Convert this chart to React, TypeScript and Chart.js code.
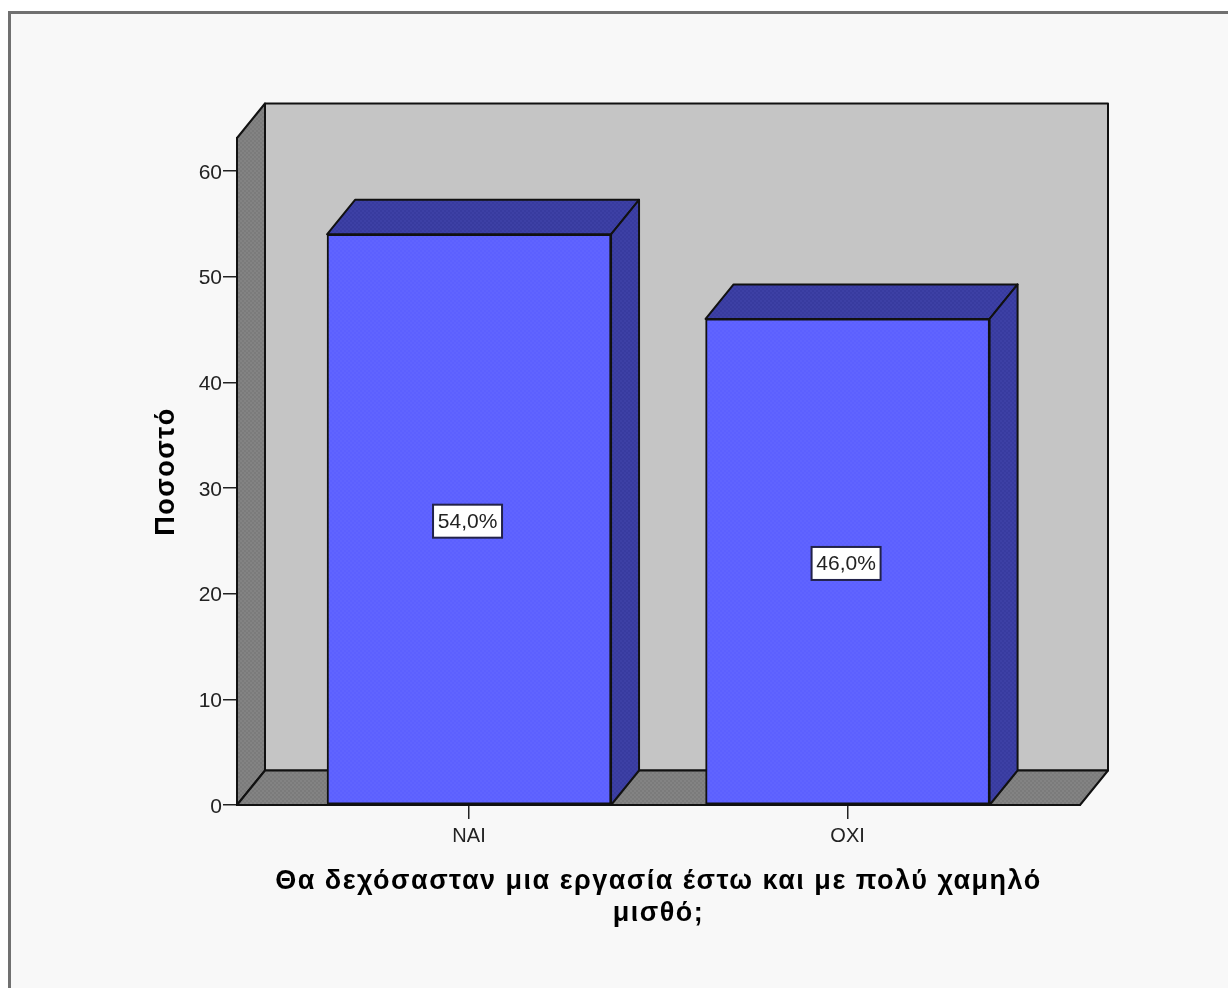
import React, { useEffect, useRef } from "react";
import { Chart, registerables } from "chart.js";

Chart.register(...registerables);

const categories = ["ΝΑΙ", "ΟΧΙ"];
const percentages = [54.0, 46.0];
const valueLabels = ["54,0%", "46,0%"];
const yTitle = "Ποσοστό";
const xTitle = ["Θα δεχόσασταν μια εργασία έστω και με πολύ χαμηλό", "μισθό;"];

const DX = 28;
const DY = -34.5;
const FONT = "'Liberation Sans', Arial, sans-serif";

const dither = (a: string, b: string): any => {
  const c = document.createElement("canvas");
  c.width = 4;
  c.height = 4;
  const g = c.getContext("2d")!;
  g.fillStyle = a;
  g.fillRect(0, 0, 4, 4);
  g.fillStyle = b;
  g.fillRect(0, 0, 2, 2);
  g.fillRect(2, 2, 2, 2);
  return g.createPattern(c, "repeat");
};

const poly = (ctx: CanvasRenderingContext2D, pts: number[][], fill: any) => {
  ctx.beginPath();
  pts.forEach(([x, y], i) => (i ? ctx.lineTo(x, y) : ctx.moveTo(x, y)));
  ctx.closePath();
  ctx.fillStyle = fill;
  ctx.fill();
  ctx.lineWidth = 2;
  ctx.strokeStyle = "#111111";
  ctx.lineJoin = "round";
  ctx.stroke();
};

const spaced = (s: any) => {
  if (s.__spaced) return;
  s.__spaced = true;
  const orig = s.drawTitle;
  s.drawTitle = function (...args: any[]) {
    const ctx = this.ctx;
    ctx.letterSpacing = "1.5px";
    orig.apply(this, args);
    ctx.letterSpacing = "0px";
  };
};

const box3d = {
  id: "box3d",
  beforeDraw(chart: any) {
    const { ctx, width, height } = chart;
    ctx.save();
    ctx.fillStyle = "#ffffff";
    ctx.fillRect(0, 0, width, height);
    ctx.fillStyle = "#f8f8f8";
    ctx.fillRect(10, 13, width - 10, height - 13);
    ctx.strokeStyle = "#707070";
    ctx.lineWidth = 3;
    ctx.beginPath();
    ctx.moveTo(9.5, height);
    ctx.lineTo(9.5, 12.5);
    ctx.lineTo(width, 12.5);
    ctx.stroke();
    ctx.restore();
  },
  beforeDatasetsDraw(chart: any) {
    const { ctx, chartArea: a, scales } = chart;
    const { left: l, right: r, top: t, bottom: b } = a;
    const gray = dither("#7b7b7b", "#838383");
    const navy = dither("#383b9f", "#3d40a5");
    ctx.save();
    poly(ctx, [[l + DX, t + DY], [r + DX, t + DY], [r + DX, b + DY], [l + DX, b + DY]], "#c5c5c5");
    poly(ctx, [[l, t], [l + DX, t + DY], [l + DX, b + DY], [l, b]], gray);
    poly(ctx, [[l, b], [l + DX, b + DY], [r + DX, b + DY], [r, b]], gray);
    const meta = chart.getDatasetMeta(0);
    meta.data.forEach((bar: any) => {
      const x0 = bar.x - bar.width / 2;
      const x1 = bar.x + bar.width / 2;
      const y0 = bar.y;
      const y1 = scales.y.getPixelForValue(0);
      poly(ctx, [[x0, y0], [x0 + DX, y0 + DY], [x1 + DX, y0 + DY], [x1, y0]], navy);
      poly(ctx, [[x1, y0], [x1 + DX, y0 + DY], [x1 + DX, y1 + DY], [x1, y1]], navy);
    });
    ctx.restore();
  },
  afterDatasetsDraw(chart: any) {
    const { ctx, scales } = chart;
    const meta = chart.getDatasetMeta(0);
    ctx.save();
    ctx.font = `21px ${FONT}`;
    ctx.textAlign = "center";
    ctx.textBaseline = "middle";
    meta.data.forEach((bar: any, i: number) => {
      const cy = scales.y.getPixelForValue(percentages[i] / 2) + 1.5;
      const cx = bar.x - 1.5;
      const w = 69;
      const h = 33;
      ctx.fillStyle = "#ffffff";
      ctx.fillRect(cx - w / 2, cy - h / 2, w, h);
      ctx.strokeStyle = "#22224a";
      ctx.lineWidth = 2;
      ctx.strokeRect(cx - w / 2, cy - h / 2, w, h);
      ctx.fillStyle = "#222222";
      ctx.fillText(valueLabels[i], cx, cy + 1);
    });
    ctx.restore();
  },
};

export default function App() {
  const ref = useRef<HTMLCanvasElement>(null);
  useEffect(() => {
    const chart = new Chart(ref.current!, {
      type: "bar",
      data: {
        datasets: [
          {
            data: percentages.map((v, i) => ({ x: i, y: v })),
            backgroundColor: dither("#5c60ff", "#6064ff"),
            borderColor: "#111111",
            borderWidth: 2,
            borderSkipped: false,
            barThickness: 284,
          },
        ],
      },
      options: {
        responsive: false,
        animation: false,
        devicePixelRatio: 1,
        layout: { autoPadding: false, padding: { top: 138, right: 148, left: 0, bottom: 0 } },
        plugins: { legend: { display: false }, tooltip: { enabled: false } },
        scales: {
          x: {
            type: "linear",
            offset: false,
            min: -0.613,
            max: 1.614,
            afterBuildTicks: (s: any) => {
              s.ticks = categories.map((_, i) => ({ value: i }));
            },
            afterFit: (s: any) => {
              s.height = 183;
              spaced(s);
            },
            grid: { offset: false, drawOnChartArea: false, drawTicks: true, tickLength: 14, color: "#222222", lineWidth: 1.5 },
            border: { display: true, color: "#111111", width: 2 },
            ticks: {
              color: "#222222",
              padding: 5,
              maxRotation: 0,
              font: { family: FONT, size: 20 },
              callback: (v: any) => categories[v],
            },
            title: {
              display: true,
              text: xTitle,
              color: "#000000",
              font: { family: FONT, size: 27, weight: "bold", lineHeight: 1.185 },
              padding: { top: 0, bottom: 58 },
            },
          },
          y: {
            type: "linear",
            min: 0,
            max: 63.12,
            afterFit: (s: any) => {
              s.width = 237;
              spaced(s);
            },
            grid: { drawOnChartArea: false, drawTicks: true, tickLength: 14, color: "#222222", lineWidth: 1.5 },
            border: { display: true, color: "#111111", width: 2 },
            ticks: {
              stepSize: 10,
              includeBounds: false,
              color: "#222222",
              padding: 1,
              labelOffset: 2,
              font: { family: FONT, size: 21 },
            },
            title: {
              display: true,
              text: yTitle,
              color: "#000000",
              font: { family: FONT, size: 27, weight: "bold" },
              padding: { top: 150, bottom: 0 },
            },
          },
        },
      },
      plugins: [box3d],
    } as any);
    return () => chart.destroy();
  }, []);
  return (
    <canvas
      ref={ref}
      width={1228}
      height={988}
      style={{ position: "fixed", left: 0, top: 0, width: 1228, height: 988 }}
    />
  );
}
